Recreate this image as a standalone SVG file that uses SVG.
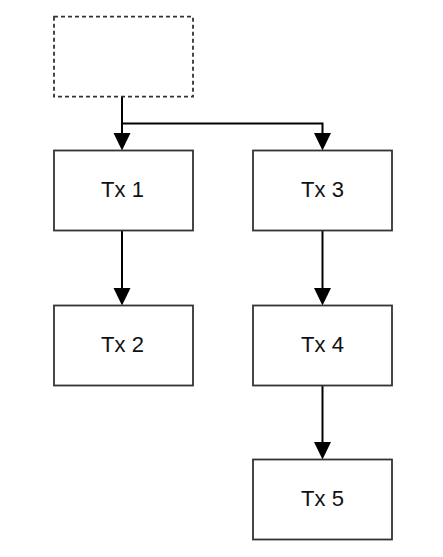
<svg xmlns="http://www.w3.org/2000/svg" width="443" height="557" viewBox="0 0 443 557">
<defs>
<style>
.node rect{fill:#fff;stroke:#333;stroke-width:1.8}
.node text{font-family:"Liberation Sans",Arial,sans-serif;font-size:22px;fill:#111;text-anchor:middle}
.dash{stroke-dasharray:4 3}
.edge{fill:none;stroke:#000;stroke-width:2}
.head{fill:#000}
</style>
</defs>
<rect width="443" height="557" fill="#fff"/>
<g id="connectors">
<path class="edge" d="M122,97 V133"/>
<path class="edge" d="M122,123.5 H322.5 V133"/>
<path class="edge" d="M122,230.5 V288"/>
<path class="edge" d="M322.5,230.5 V288"/>
<path class="edge" d="M322.5,385.5 V442"/>
<polygon class="head" points="113.5,133 130.5,133 122,150.5"/>
<polygon class="head" points="314,133 331,133 322.5,150.5"/>
<polygon class="head" points="113.5,288 130.5,288 122,305.5"/>
<polygon class="head" points="314,288 331,288 322.5,305.5"/>
<polygon class="head" points="314,442 331,442 322.5,459.5"/>
</g>
<g id="start" class="node"><rect class="dash" x="54" y="16.7" width="139" height="80"/></g>
<g id="tx1" class="node"><rect x="54" y="150.5" width="139" height="80"/><text x="122.5" y="197">Tx 1</text></g>
<g id="tx3" class="node"><rect x="253" y="150.5" width="139" height="80"/><text x="322.5" y="197">Tx 3</text></g>
<g id="tx2" class="node"><rect x="54" y="305.5" width="139" height="80"/><text x="122.5" y="352">Tx 2</text></g>
<g id="tx4" class="node"><rect x="253" y="305.5" width="139" height="80"/><text x="322.5" y="352">Tx 4</text></g>
<g id="tx5" class="node"><rect x="253" y="459.5" width="139" height="80"/><text x="322.5" y="506">Tx 5</text></g>
</svg>
